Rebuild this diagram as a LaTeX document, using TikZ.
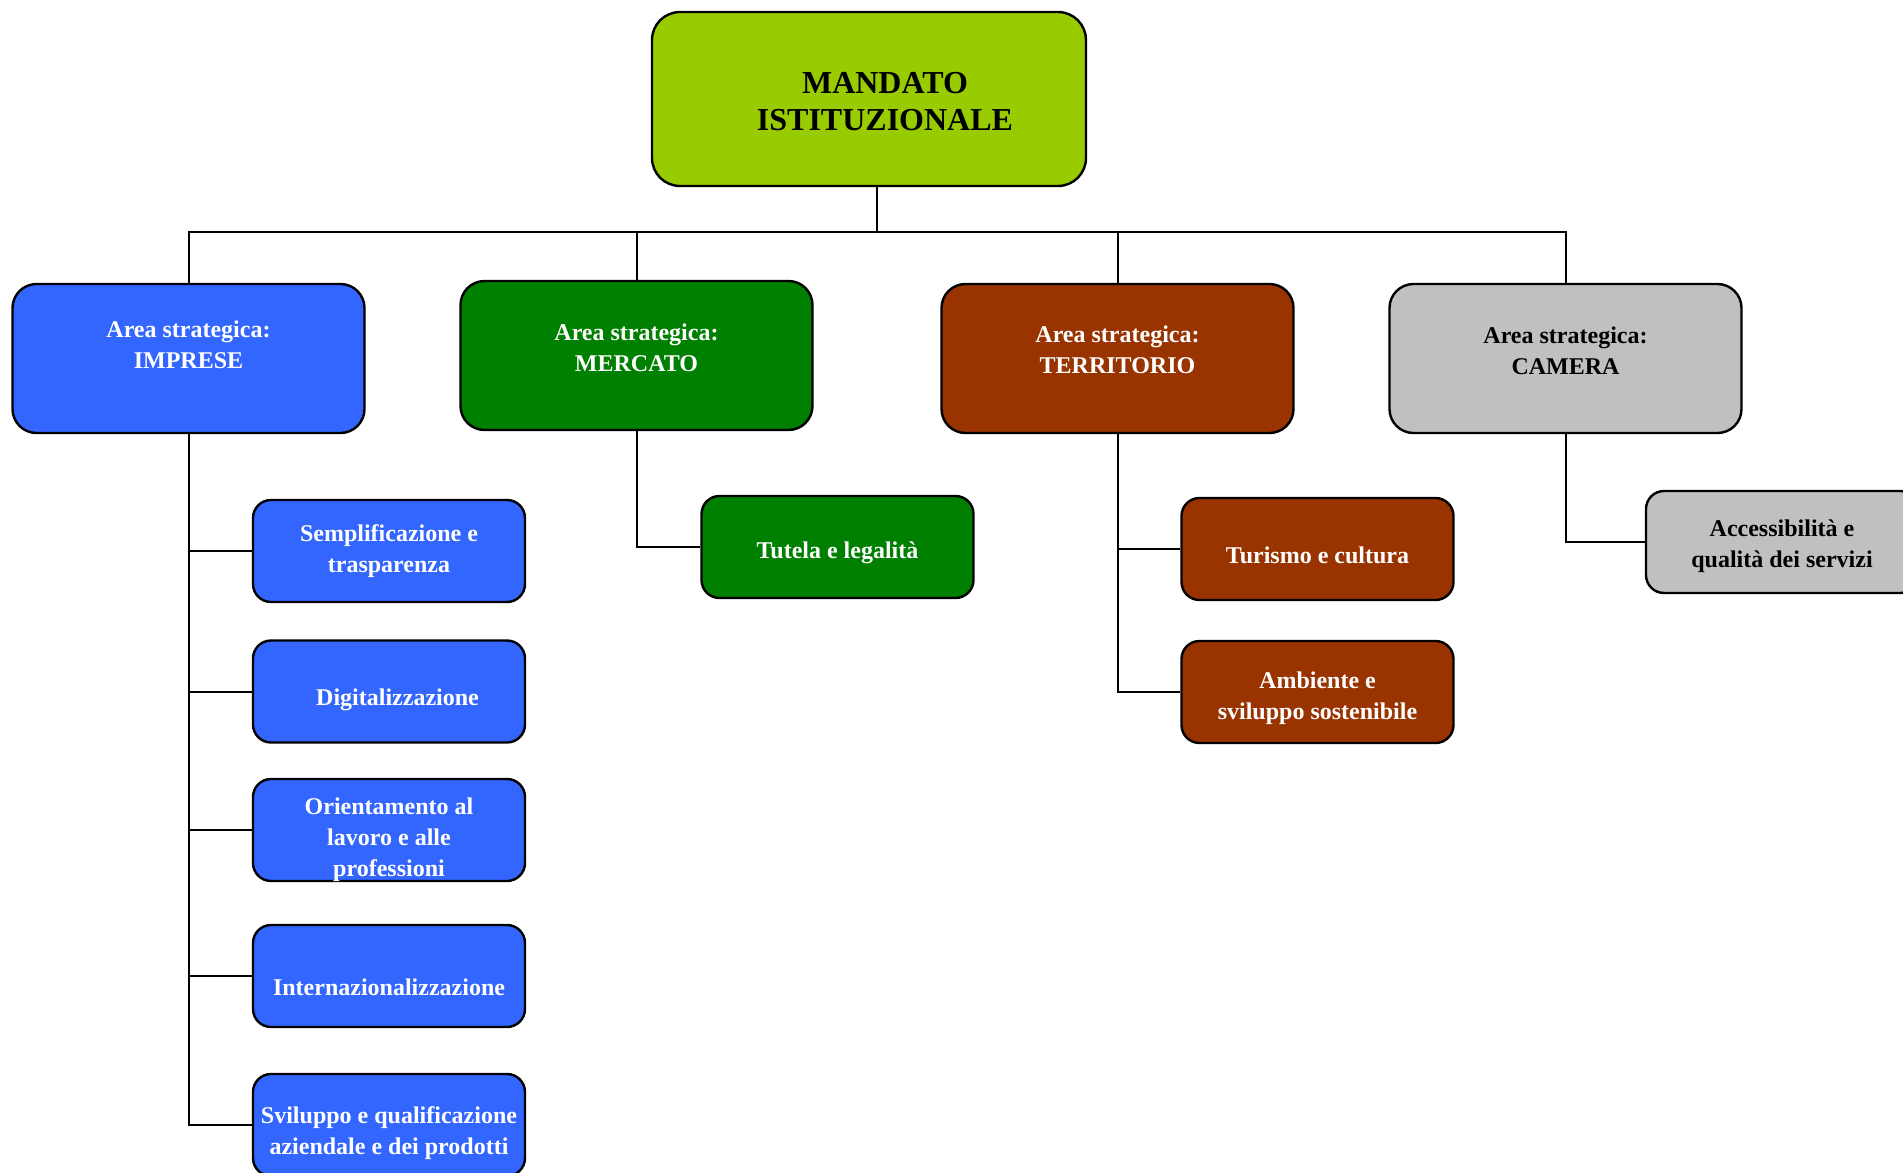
\documentclass[tikz,border=0pt]{standalone}
\usepackage{fontspec}
\setmainfont{Liberation Serif}
\usepackage{xcolor}

\definecolor{mandatolime}{HTML}{99CC00}
\definecolor{impreseblue}{HTML}{3366FF}
\definecolor{mercatogreen}{HTML}{008000}
\definecolor{territoriobrown}{HTML}{993300}
\definecolor{cameragray}{HTML}{C0C0C0}

\tikzset{
  box/.style={draw=black, line width=1.2pt, inner sep=0pt},
  areabox/.style={box, rounded corners=12pt, minimum width=176pt, minimum height=74.5pt},
  subbox/.style={box, rounded corners=9pt, minimum width=136pt, minimum height=51pt},
  boxtext/.style={align=center, inner sep=0pt, font=\bfseries\fontsize{12}{15.5}\selectfont},
  link/.style={line width=1pt}
}

\begin{document}
\begin{tikzpicture}[x=0.5pt,y=-0.5pt]
\useasboundingbox (0,0) rectangle (1903,1173);

% top
\node[box, fill=mandatolime, rounded corners=14pt, minimum width=217pt, minimum height=87pt] (mandato) at (869,99) {};
\node[boxtext, font=\bfseries\fontsize{16}{18.5}\selectfont] (mandato-txt) at ([xshift=8pt,yshift=-1.5pt]mandato.center) {MANDATO\\ISTITUZIONALE};

% aree strategiche
\node[areabox, fill=impreseblue] (imprese) at (188.5,358.5) {};
\node[boxtext, white] (imprese-txt) at ([yshift=7pt]imprese.center) {Area strategica:\\IMPRESE};
\node[areabox, fill=mercatogreen] (mercato) at (636.5,355.5) {};
\node[boxtext, white] (mercato-txt) at ([yshift=4pt]mercato.center) {Area strategica:\\MERCATO};
\node[areabox, fill=territoriobrown] (territorio) at (1117.5,358.5) {};
\node[boxtext, white] (territorio-txt) at ([yshift=4.5pt]territorio.center) {Area strategica:\\TERRITORIO};
\node[areabox, fill=cameragray] (camera) at (1565.5,358.5) {};
\node[boxtext] (camera-txt) at ([yshift=4pt]camera.center) {Area strategica:\\CAMERA};

% obiettivi IMPRESE
\node[subbox, fill=impreseblue] (sempl) at (389,551) {};
\node[boxtext, white] (sempl-txt) at (sempl.center) {Semplificazione e\\trasparenza};
\node[subbox, fill=impreseblue] (digit) at (389,691.5) {};
\node[boxtext, white] (digit-txt) at ([xshift=4.25pt,yshift=-4.25pt]digit.center) {Digitalizzazione};
\node[subbox, fill=impreseblue] (orient) at (389,830) {};
\node[boxtext, white] (orient-txt) at ([yshift=-5pt]orient.center) {Orientamento al\\lavoro e alle\\professioni};
\node[subbox, fill=impreseblue] (intern) at (389,976) {};
\node[boxtext, white] (intern-txt) at ([yshift=-5.5pt]intern.center) {Internazionalizzazione};
\node[subbox, fill=impreseblue] (svil) at (389,1125) {};
\node[boxtext, white] (svil-txt) at ([yshift=-4.25pt]svil.center) {Sviluppo e qualificazione\\aziendale e dei prodotti};

% obiettivi MERCATO
\node[subbox, fill=mercatogreen] (tutela) at (837.5,547) {};
\node[boxtext, white] (tutela-txt) at ([yshift=-3pt]tutela.center) {Tutela e legalità};

% obiettivi TERRITORIO
\node[subbox, fill=territoriobrown] (turismo) at (1317.5,549) {};
\node[boxtext, white] (turismo-txt) at ([yshift=-3pt]turismo.center) {Turismo e cultura};
\node[subbox, fill=territoriobrown] (ambiente) at (1317.5,692) {};
\node[boxtext, white] (ambiente-txt) at ([yshift=-3pt]ambiente.center) {Ambiente e\\sviluppo sostenibile};

% obiettivi CAMERA
\node[subbox, fill=cameragray] (access) at (1782,542) {};
\node[boxtext] (access-txt) at ([yshift=-2pt]access.center) {Accessibilità e\\qualità dei servizi};

% collegamenti
\coordinate (bus) at (877,232);
\draw[link] (bus |- mandato.south) -- (bus);
\draw[link] (imprese.north) -- (imprese.north |- bus) -- (camera.north |- bus) -- (camera.north);
\draw[link] (mercato.north) -- (mercato.north |- bus);
\draw[link] (territorio.north) -- (territorio.north |- bus);

\foreach \obj in {sempl,digit,orient,intern,svil}
  \draw[link] (imprese.south) |- (\obj.west);
\draw[link] (mercato.south) |- (tutela.west);
\foreach \obj in {turismo,ambiente}
  \draw[link] (territorio.south) |- (\obj.west);
\draw[link] (camera.south) |- (access.west);
\end{tikzpicture}
\end{document}
